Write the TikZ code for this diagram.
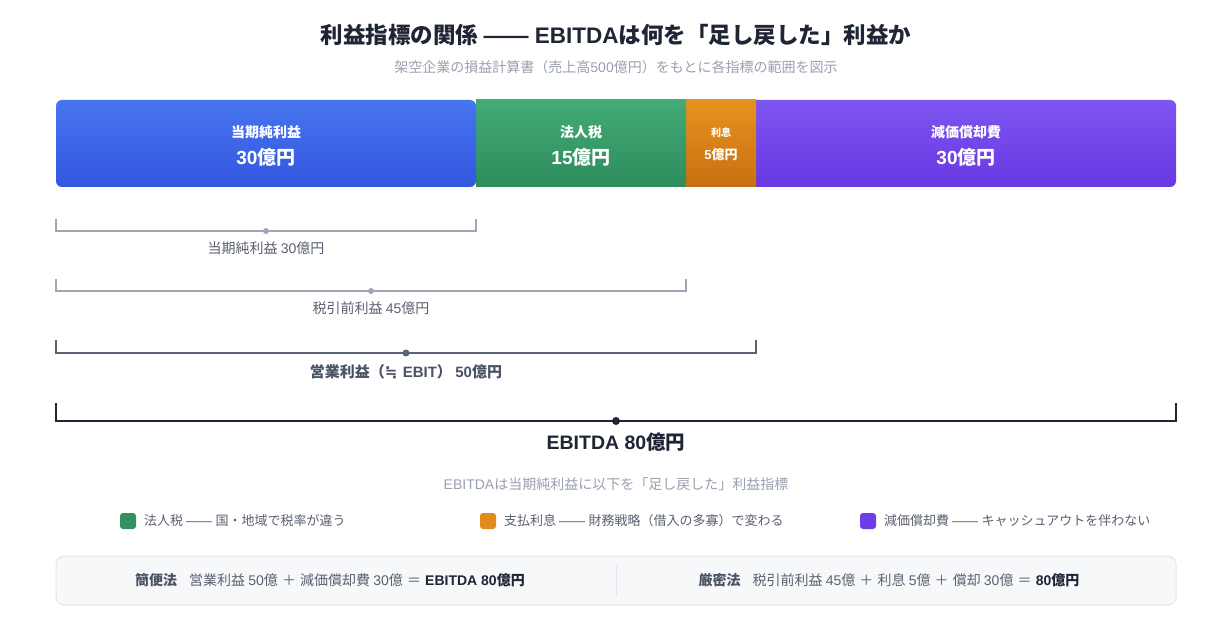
\documentclass[tikz,border=0pt]{standalone}
\usepackage{fontspec}
\setmainfont{Liberation Sans}
\newfontfamily\jpf{Noto Sans CJK JP}
\newfontfamily\latf{Liberation Sans}
\newfontfamily\symf{DejaVu Sans}
\XeTeXinterchartokenstate=1
\newXeTeXintercharclass\cjkcls
\newXeTeXintercharclass\symcls
\newcount\cc
\newcommand{\setcjkrange}[2]{\cc=#1\relax
  \loop\XeTeXcharclass\cc=\cjkcls\relax\ifnum\cc<#2\relax\advance\cc by 1\relax\repeat}
\setcjkrange{"3000}{"30FF}
\setcjkrange{"4E00}{"9FFF}
\setcjkrange{"FF00}{"FFEF}
\XeTeXcharclass"2252=\symcls
\XeTeXinterchartoks 0 \cjkcls = {\jpf}
\XeTeXinterchartoks 4095 \cjkcls = {\jpf}
\XeTeXinterchartoks \cjkcls 0 = {\latf}
\XeTeXinterchartoks 4095 0 = {\latf}
\XeTeXinterchartoks 0 \symcls = {\symf}
\XeTeXinterchartoks 4095 \symcls = {\symf}
\XeTeXinterchartoks \cjkcls \symcls = {\symf}
\XeTeXinterchartoks \symcls 0 = {\latf}
\XeTeXinterchartoks \symcls \cjkcls = {\jpf}
\definecolor{ink}{HTML}{1F2535}
\definecolor{mid}{HTML}{4A5265}
\definecolor{soft}{HTML}{5A6070}
\definecolor{pale}{HTML}{9AA0B0}
\definecolor{br1}{HTML}{A0A6B4}
\definecolor{br3}{HTML}{5A6275}
\definecolor{bluet}{HTML}{4675F0}
\definecolor{blueb}{HTML}{3356DF}
\definecolor{greent}{HTML}{42AB76}
\definecolor{greenb}{HTML}{2E8C5D}
\definecolor{oranget}{HTML}{E6921E}
\definecolor{orangeb}{HTML}{C97012}
\definecolor{purplet}{HTML}{7D55EF}
\definecolor{purpleb}{HTML}{6838E3}
\definecolor{boxfill}{HTML}{F7F8FA}
\definecolor{boxline}{HTML}{E4E6EB}
\newcommand{\fs}[1]{\fontsize{#1}{#1}\selectfont}
\tikzset{
  segtext/.style={text=white,align=center,inner sep=0pt},
  lab/.style={inner sep=0pt,anchor=center},
  legsq/.style={rounded corners=3pt,minimum size=16pt,inner sep=0pt},
  dotm/.style={circle,fill,inner sep=0pt,minimum size=#1},
}
\begin{document}
\begin{tikzpicture}[x=1pt,y=-1pt]
\useasboundingbox (0,0) rectangle (1232,620);
\fill[white] (0,0) rectangle (1232,620);
% title
\node[lab,text=ink,font=\fs{22.5}\bfseries] (title) at (616,35) {利益指標の関係 —— EBITDAは何を「足し戻した」利益か};
\node[lab,text=pale,font=\fs{14}] (sub) at (616,67) {架空企業の損益計算書（売上高500億円）をもとに各指標の範囲を図示};
% bar segments
\shade[top color=purplet,bottom color=purpleb,rounded corners=6pt] (740,100) rectangle (1176,187);
\shade[top color=oranget,bottom color=orangeb] (686,100) rectangle (756,187);
\shade[top color=greent,bottom color=greenb] (476,100) rectangle (686,187);
\shade[top color=bluet,bottom color=blueb,rounded corners=6pt] (56,100) rectangle (476,187);
\node[segtext,font=\fs{14}\bfseries] (n1) at (266,132) {当期純利益};
\node[segtext,font=\fs{19}\bfseries] (v1) at (266,157) {30億円};
\node[segtext,font=\fs{14}\bfseries] (n2) at (581,132) {法人税};
\node[segtext,font=\fs{19}\bfseries] (v2) at (581,157) {15億円};
\node[segtext,font=\fs{10}\bfseries] (n3) at (721,133) {利息};
\node[segtext,font=\fs{13}\bfseries] (v3) at (721,155) {5億円};
\node[segtext,font=\fs{14}\bfseries] (n4) at (966,132) {減価償却費};
\node[segtext,font=\fs{19}\bfseries] (v4) at (966,157) {30億円};
% brackets
\coordinate (a1) at (56,219); \coordinate (a2) at (476,219);
\draw[br1,line width=1.2pt] (a1) |- (266,231) -| (a2);
\node[dotm=6pt,br1] (d1) at (266,231) {};
\node[lab,text=soft,font=\fs{14}] (l1) at (266,248) {当期純利益 30億円};
\coordinate (b1) at (56,279); \coordinate (b2) at (686,279);
\draw[br1,line width=1.2pt] (b1) |- (371,291) -| (b2);
\node[dotm=6pt,br1] (d2) at (371,291) {};
\node[lab,text=soft,font=\fs{14}] (l2) at (371,308) {税引前利益 45億円};
\coordinate (c1) at (56,340); \coordinate (c2) at (756,340);
\draw[br3,line width=1.6pt] (c1) |- (406,353) -| (c2);
\node[dotm=7pt,br3] (d3) at (406,353) {};
\node[lab,text=mid,font=\fs{15}\bfseries] (l3) at (406,372) {営業利益（≒ EBIT） 50億円};
\coordinate (e1) at (56,403); \coordinate (e2) at (1176,403);
\draw[ink,line width=2.2pt] (e1) |- (616,421) -| (e2);
\node[dotm=8pt,ink] (d4) at (616,421) {};
\node[lab,text=ink,font=\fs{19.5}\bfseries] (l4) at (616,442) {EBITDA 80億円};
% legend
\node[lab,text=pale,font=\fs{14}] (note) at (616,484) {EBITDAは当期純利益に以下を「足し戻した」利益指標};
\node[legsq,fill=greenb!85!greent] (s1) at (128,521) {};
\node[lab,anchor=west,text=soft,font=\fs{13}] (t1) at (144,521) {法人税 —— 国・地域で税率が違う};
\node[legsq,fill=oranget!80!orangeb] (s2) at (488,521) {};
\node[lab,anchor=west,text=soft,font=\fs{13}] (t2) at (504,521) {支払利息 —— 財務戦略（借入の多寡）で変わる};
\node[legsq,fill=purpleb!80!purplet] (s3) at (868,521) {};
\node[lab,anchor=west,text=soft,font=\fs{13}] (t3) at (884,521) {減価償却費 —— キャッシュアウトを伴わない};
% bottom box
\draw[boxline,fill=boxfill,rounded corners=8pt,line width=1pt] (56,556) rectangle (1176,605);
\draw[boxline,line width=1pt] (616,565) -- (616,597);
\node[lab,text=soft,font=\fs{14}] (f1) at (330,580) {\textcolor{mid}{\bfseries 簡便法}\hspace{12pt}営業利益 50億 \hspace{1pt}＋\hspace{1pt} 減価償却費 30億 \hspace{1pt}＝\hspace{1pt} \textcolor{ink}{\bfseries EBITDA 80億円}};
\node[lab,text=soft,font=\fs{14}] (f2) at (889,580) {\textcolor{mid}{\bfseries 厳密法}\hspace{12pt}税引前利益 45億 \hspace{1pt}＋\hspace{1pt} 利息 5億 \hspace{1pt}＋\hspace{1pt} 償却 30億 \hspace{1pt}＝\hspace{1pt} \textcolor{ink}{\bfseries 80億円}};
\end{tikzpicture}
\end{document}
